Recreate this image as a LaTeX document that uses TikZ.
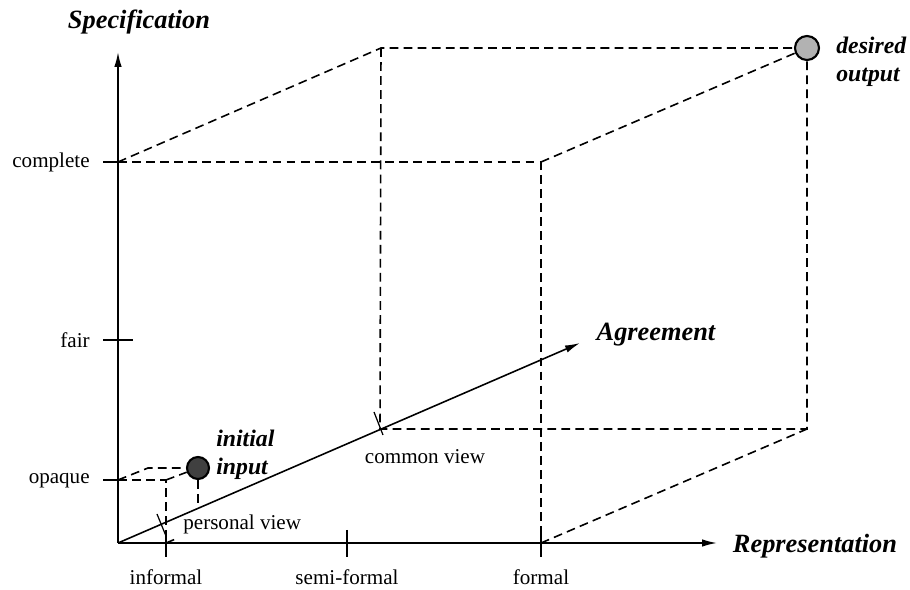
\documentclass[tikz,border=0pt]{standalone}
\usepackage{fontspec}
\setmainfont{Liberation Serif}
\usetikzlibrary{arrows.meta, calc}
\tikzstyle{axis} = [line width=0.9, -{Latex[length=3mm,width=1.5mm]}]
\tikzstyle{edge} = [line width=0.9, dash pattern=on 5pt off 3pt]
\tikzstyle{tick} = [line width=0.7]
\tikzstyle{lbl} = [inner sep=0, font=\fontsize{12}{14}\selectfont]
\tikzstyle{title} = [inner sep=0, font=\fontsize{15}{17}\selectfont\bfseries\itshape]
\tikzstyle{ptitle} = [inner sep=0, align=left, anchor=west,
    font=\fontsize{13.5}{16}\selectfont\bfseries\itshape]
\tikzstyle{point} = [circle, draw=black, line width=1.2, minimum size=4.4mm, inner sep=0]

\begin{document}
\begin{tikzpicture}[x=0.2mm, y=-0.2mm]
\useasboundingbox (0,0) rectangle (910,590);

%%% axes
\coordinate (O) at (118,543);
\coordinate (spec) at (118,52);
\coordinate (repr) at (717,543);
\coordinate (agr) at (580,343);
\draw[axis] (O) -- (spec);
\draw[axis] (O) -- (repr);
\draw[axis] (O) -- (agr);

\node[title] (tspec) at (139,22) {Specification};
\node[title] (trepr) at (815,546) {Representation};
\node[title] (tagr) at (656,335) {Agreement};

%%% specification scale
\coordinate (complete) at (118,162);
\coordinate (fair) at (118,340);
\coordinate (opaque) at (118,480);
\draw[tick] ($(complete)+(-15,0)$) -- ($(complete)+(5,0)$);
\draw[tick] ($(fair)+(-15,0)$) -- ($(fair)+(15,0)$);
\draw[tick] ($(opaque)+(-15,0)$) -- ($(opaque)+(5,0)$);
\node[lbl, anchor=east] (lcomplete) at (90,162) {complete};
\node[lbl, anchor=east] (lfair) at (90,340) {fair};
\node[lbl, anchor=east] (lopaque) at (90,481) {opaque};

%%% representation scale
\coordinate (informal) at (166,543);
\coordinate (semiformal) at (347,543);
\coordinate (formal) at (541,543);
\foreach \p in {informal, semiformal, formal}
    \draw[tick] ($(\p)+(0,-13)$) -- ($(\p)+(0,14)$);
\node[lbl] (linformal) at (166,577) {informal};
\node[lbl] (lsemiformal) at (347,577) {semi-formal};
\node[lbl] (lformal) at (541,577) {formal};

%%% agreement scale
\coordinate (personal) at (161,524);
\coordinate (common) at (380,429);
\draw[tick] (157,514) -- (166,536);
\draw[tick] (374,412) -- (383,435);
\node[lbl, anchor=west] (lpersonal) at (183,524) {personal view};
\node[lbl] (lcommon) at (425,457) {common view};

%%% points
\node[point, fill=black!75] (input) at (198,468) {};
\node[point, fill=black!30, minimum size=4.8mm] (output) at (807,48) {};
\node[ptitle] (linput) at (216,455) {initial\\input};
\node[ptitle] (loutput) at (836,62) {desired\\output};

%%% small box
\coordinate (s1) at (166,480);
\coordinate (s2) at (148,468);
\coordinate (s3) at (198,507);
\coordinate (s4) at (178,538);
\draw[edge] (opaque) -- (s1) -- (informal);
\draw[edge] (s1) -- (input);
\draw[edge] (opaque) -- (s2) -- (input);
\draw[edge] (input) -- (s3);
\draw[edge] (informal) -- (s4);

%%% large box
\coordinate (b1) at (541,162);
\coordinate (b2) at (381,48);
\coordinate (b3) at (807,429);
\draw[edge] (complete) -- (b1) -- (formal);
\draw[edge] (complete) -- (b2) -- (output);
\draw[edge] (b2) -- (common) -- (b3) -- (output);
\draw[edge] (b1) -- (output);
\draw[edge] (formal) -- (b3);

\end{tikzpicture}
\end{document}
